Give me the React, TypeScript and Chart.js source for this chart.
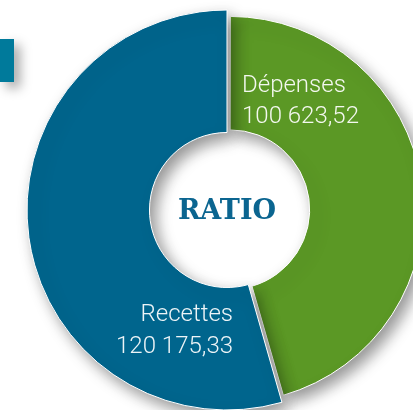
import React, { useEffect, useRef } from "react";
import { Chart, registerables } from "chart.js";

Chart.register(...registerables);

const categories = ["Dépenses", "Recettes"];
const values = [100623.52, 120175.33];
const valueLabels = ["100 623,52", "120 175,33"];
const colors = ["#5B9825", "#00658D"];
const centerTitle = "RATIO";

const shadowPlugin = {
  id: "shadowPlugin",
  afterDatasetUpdate(chart: any, args: any) {
    const el = args.meta.data[0];
    if (el) el.outerRadius = el.outerRadius - 9;
  },
  beforeDatasetsDraw(chart: any) {
    const ctx = chart.ctx;
    ctx.save();
    ctx.shadowColor = "rgba(0,0,0,0.42)";
    ctx.shadowBlur = 15;
    ctx.shadowOffsetX = 6;
    ctx.shadowOffsetY = 7;
  },
  afterDatasetsDraw(chart: any) {
    const ctx = chart.ctx;
    ctx.restore();
    const meta = chart.getDatasetMeta(0);
    const a0 = meta.data[0];
    const cx = a0.x;
    const cy = a0.y;
    ctx.save();
    ctx.fillStyle = "rgba(255,255,255,0.93)";
    ctx.font = "300 24px Roboto";
    ctx.textAlign = "left";
    ctx.textBaseline = "alphabetic";
    ctx.fillText(categories[0], cx + 15, cy - 118);
    ctx.fillText(valueLabels[0], cx + 15, cy - 87);
    ctx.textAlign = "right";
    ctx.fillText(categories[1], cx + 6, cy + 111);
    ctx.fillText(valueLabels[1], cx + 6, cy + 143);
    ctx.fillStyle = "#0B6590";
    ctx.font = "bold 27px 'DejaVu Serif'";
    ctx.textAlign = "center";
    ctx.fillText(centerTitle, cx, cy + 9);
    ctx.restore();
  },
};

export default function App() {
  const ref = useRef<HTMLCanvasElement>(null);
  useEffect(() => {
    if (!ref.current) return;
    const chart = new Chart(ref.current, {
      type: "doughnut",
      data: {
        labels: categories,
        datasets: [
          {
            data: values,
            backgroundColor: colors,
            borderColor: "#ffffff",
            borderWidth: 1,
            offset: [12, 0],
          },
        ],
      },
      options: {
        responsive: false,
        animation: false,
        radius: 200,
        cutout: 75,
        rotation: 0,
        layout: { padding: { top: 10, bottom: 10, left: 0, right: 0 } },
        plugins: {
          legend: { display: false },
          tooltip: { enabled: false },
        },
        events: [],
      },
      plugins: [shadowPlugin],
    });
    return () => chart.destroy();
  }, []);
  return (
    <div
      style={{
        position: "fixed",
        left: 0,
        top: 0,
        width: 413,
        height: 410,
        overflow: "hidden",
        background: "#ffffff",
      }}
    >
      <canvas
        ref={ref}
        width={454}
        height={420}
        style={{ position: "absolute", left: 0, top: 0, width: 454, height: 420 }}
      />
      <div
        style={{
          position: "absolute",
          left: 0,
          top: 39,
          width: 14,
          height: 43,
          background: "#007A9B",
          boxShadow: "6px 6px 12px rgba(0,0,0,0.35)",
        }}
      />
    </div>
  );
}
